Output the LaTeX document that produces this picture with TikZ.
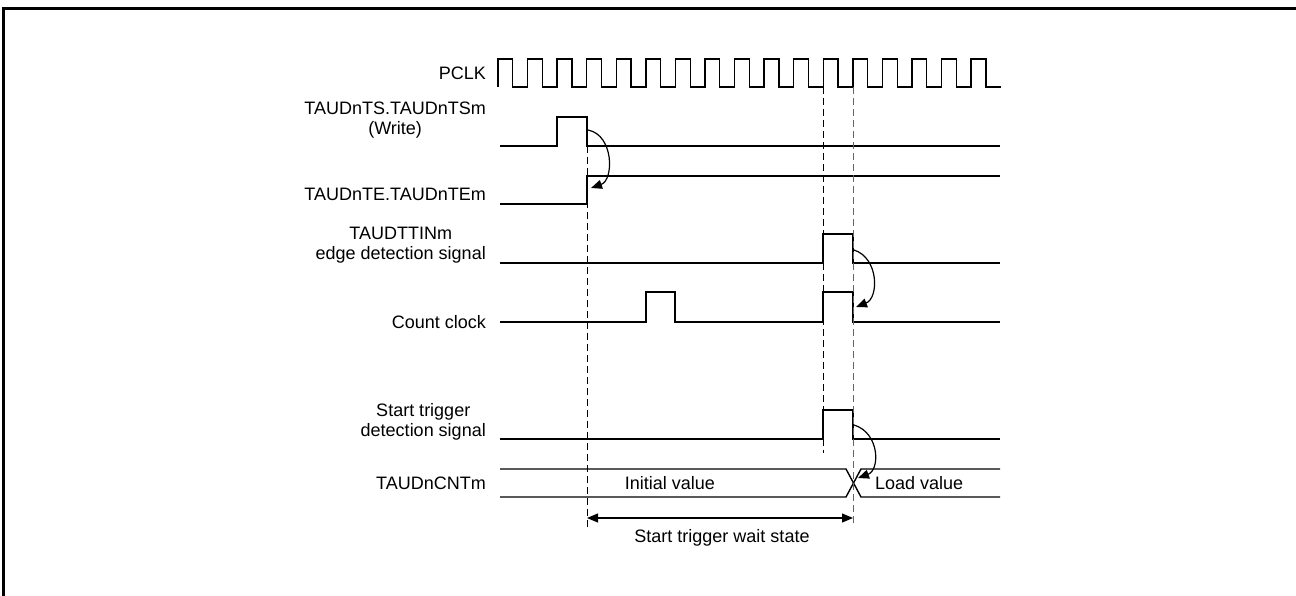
\documentclass[tikz,border=0pt]{standalone}
\usepackage{fontspec}
\setmainfont{Liberation Sans}
\usetikzlibrary{arrows.meta}

\begin{document}
\begin{tikzpicture}[x=1pt, y=-1pt,
  sig/.style={line width=1.4pt},
  guide/.style={line width=1pt, dash pattern=on 7pt off 4pt},
  lbl/.style={anchor=east, align=center, inner sep=0pt, font=\fontsize{18}{20}\selectfont},
  txt/.style={inner sep=0pt, font=\fontsize{18}{20}\selectfont},
  arrow/.style={-{Triangle[length=11pt, width=9pt]}, line width=1.2pt}
]
  \useasboundingbox (0,0) rectangle (1296,596);
  \draw[line width=3pt] (3,600) -- (3,9) -- (1300,9);

  % signal names
  \node[lbl] (pclk)  at (486,73)  {PCLK};
  \node[lbl] (ts)    at (486,120) {TAUDnTS.TAUDnTSm\\(Write)};
  \node[lbl] (te)    at (486,194) {TAUDnTE.TAUDnTEm};
  \node[lbl] (ttin)  at (486,245) {TAUDTTINm\\edge detection signal};
  \node[lbl] (cclk)  at (486,322) {Count clock};
  \node[lbl] (strg)  at (486,422) {Start trigger\\detection signal};
  \node[lbl] (cnt)   at (486,483) {TAUDnCNTm};

  % waveforms
  \draw[sig] (498,87) \foreach \k in {0,...,16} {
    -- ++(0,-28) -- ++(14.785,0) -- ++(0,28) -- ++(14.785,0) };
  \draw[sig] (500,146) -- (557,146) -- (557,117) -- (587,117) -- (587,146) -- (1000,146);
  \draw[sig] (500,204) -- (587,204) -- (587,176) -- (1000,176);
  \draw[sig] (500,263) -- (823,263) -- (823,234) -- (853,234) -- (853,263) -- (1000,263);
  \draw[sig] (500,322) -- (646,322) -- (646,292) -- (675,292) -- (675,322)
    -- (823,322) -- (823,292) -- (853,292) -- (853,322) -- (1000,322);
  \draw[sig] (500,439) -- (823,439) -- (823,410) -- (853,410) -- (853,439) -- (1000,439);
  \draw[sig] (500,469) -- (846,469) -- (861,497) -- (1000,497);
  \draw[sig] (500,497) -- (846,497) -- (861,469) -- (1000,469);

  % guides
  \draw[guide] (587,146) -- (587,527);
  \draw[guide] (823,87) -- (823,453);
  \draw[guide, black!60] (853,87) -- (853,525);

  % causes
  \coordinate (ts-fall)   at (588,130);
  \coordinate (te-rise)   at (591,188);
  \coordinate (ttin-fall) at (854,250);
  \coordinate (cclk-fall) at (856,307);
  \coordinate (strg-fall) at (854,425);
  \coordinate (cnt-load)  at (858,478);
  \draw[arrow] (ts-fall) .. controls (614,135) and (614,180) .. (te-rise);
  \draw[arrow] (ttin-fall) .. controls (879,258) and (879,298) .. (cclk-fall);
  \draw[arrow] (strg-fall) .. controls (880,433) and (880,470) .. (cnt-load);

  % values and wait state
  \node[txt] (init) at (670,483) {Initial value};
  \node[txt, anchor=west] (load) at (875,483) {Load value};
  \coordinate (wait-a) at (587,518);
  \coordinate (wait-b) at (853,518);
  \draw[{Triangle[length=11pt, width=9pt]}-{Triangle[length=11pt, width=9pt]}, line width=1.2pt] (wait-a) -- (wait-b);
  \node[txt] (wait) at (722,538) {Start trigger wait state};
\end{tikzpicture}
\end{document}
